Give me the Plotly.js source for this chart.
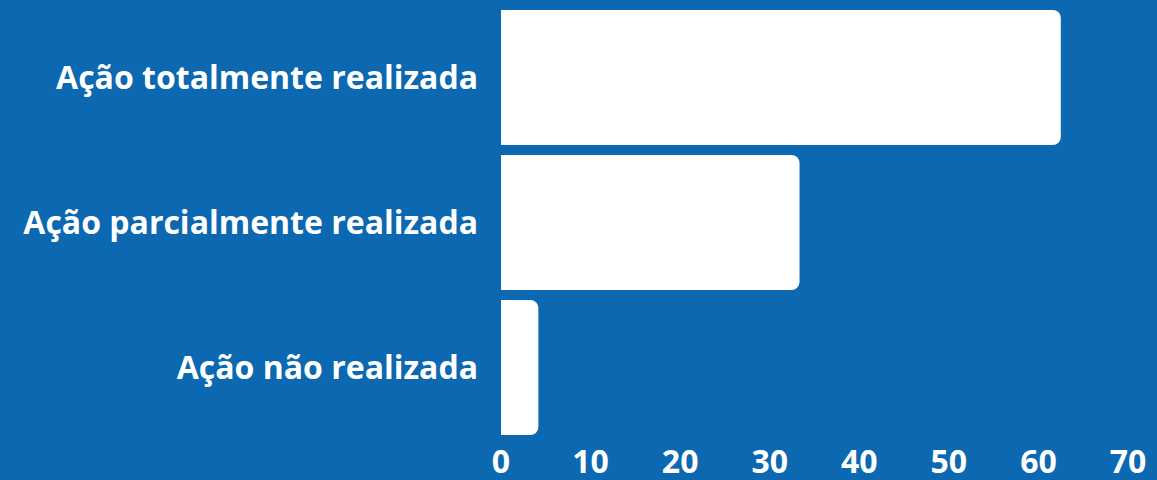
<!DOCTYPE html>
<html>
<head>
<meta charset="utf-8">
<script src="https://cdn.plot.ly/plotly-3.0.1.min.js"></script>
<style>html,body{margin:0;padding:0;background:#0b68b1;}#chart{width:1157px;height:480px;}</style>
</head>
<body>
<div id="chart"></div>
<script>
const categories = ["Ação totalmente realizada", "Ação parcialmente realizada", "Ação não realizada"];
const values = [62.5, 33.33, 4.17];
const tickValues = [0, 10, 20, 30, 40, 50, 60, 70];
const tickLabels = ["0", "10", "20", "30", "40", "50", "60", "70"];

const bg = "#0b68b1";
const font = {family: "Open Sans, sans-serif", size: 32, color: "#ffffff", weight: 700};

Plotly.newPlot("chart", [{
  type: "bar",
  orientation: "h",
  y: categories,
  x: values,
  marker: {color: "#ffffff", cornerradius: 8, line: {width: 0}},
  hoverinfo: "none"
}], {
  width: 1157, height: 480,
  paper_bgcolor: bg, plot_bgcolor: bg,
  margin: {l: 501, r: 29, t: 5, b: 40},
  bargap: 0.069,
  showlegend: false,
  font: font,
  xaxis: {
    range: [0, 70], tickvals: tickValues, ticktext: tickLabels,
    showgrid: false, zeroline: false, showline: false, ticks: "",
    tickfont: {family: "Open Sans, sans-serif", size: 32, color: "#ffffff", weight: 700},
    ticklabelstandoff: 0, fixedrange: true
  },
  yaxis: {
    autorange: "reversed",
    showgrid: false, zeroline: false, showline: false, ticks: "",
    tickfont: {family: "Open Sans, sans-serif", size: 32, color: "#ffffff", weight: 700},
    ticklabelstandoff: 22, fixedrange: true
  }
}, {displayModeBar: false, staticPlot: true});
</script>
</body>
</html>
